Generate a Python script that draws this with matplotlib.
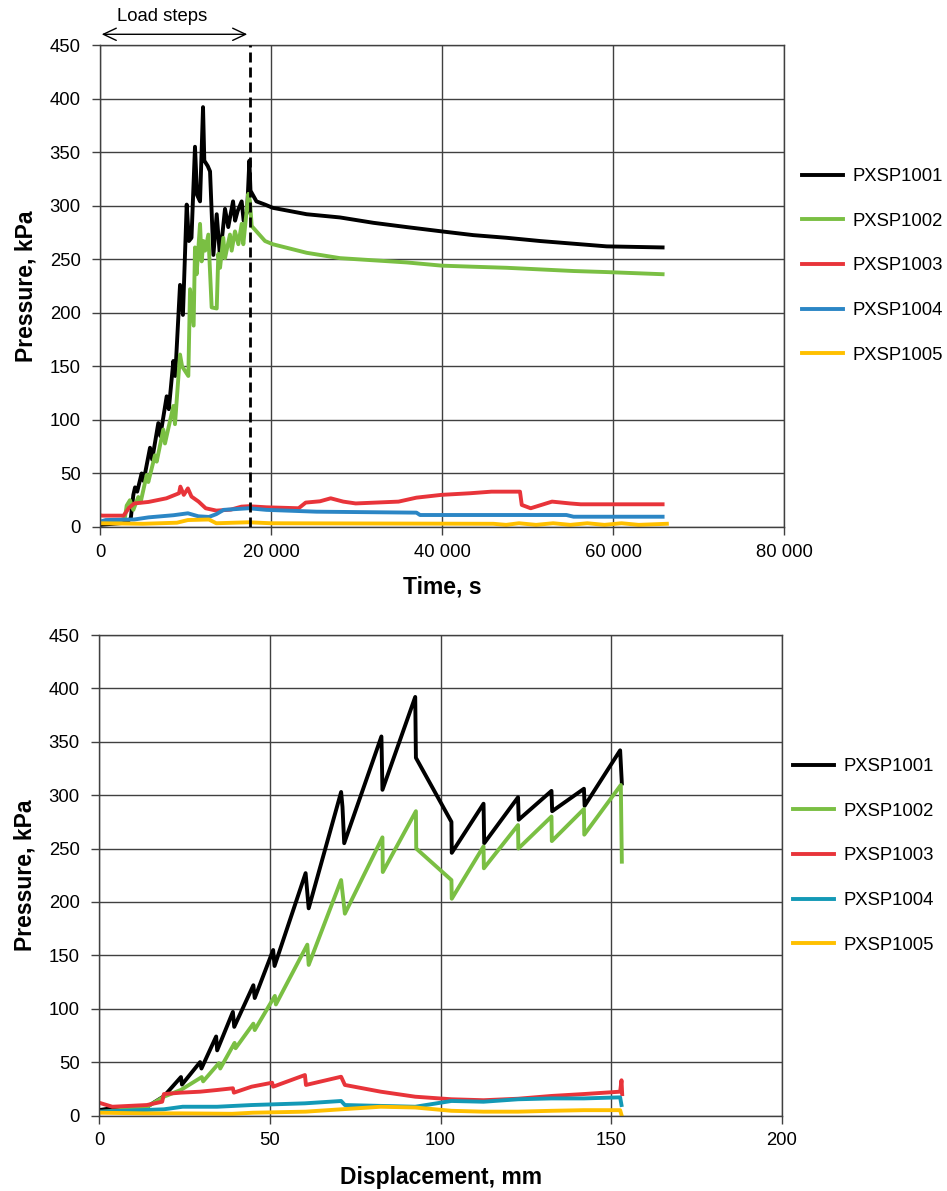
import matplotlib
matplotlib.use("Agg")
import matplotlib.pyplot as plt
from matplotlib.ticker import FuncFormatter, MultipleLocator

plt.rcParams['font.family'] = ['Liberation Sans', 'DejaVu Sans']

# ---- pressure vs time (s) ----
t_1001 = [0, 1500, 3000, 3600, 3900, 4100, 4350, 4870, 5100, 5850, 6100, 6820, 7050,
          7800, 8050, 8580, 8800, 9360, 9700, 10140, 10400, 10700, 11110, 11350, 11700,
          12050, 12200, 12600, 12870, 13260, 13650, 14040, 14620, 15000, 15560, 15800,
          16100, 16570, 16800, 17200, 17470, 17600, 18300, 19300, 20200, 24170, 28070,
          31970, 35870, 39960, 43660, 47560, 51460, 55360, 59260, 65800]
p_1001 = [2, 3, 4, 8, 30, 37, 33, 50, 43, 74, 63, 97, 85,
          122, 110, 155, 141, 226, 198, 301, 267, 270, 355, 310, 304,
          392, 342, 337, 332, 254, 292, 252, 297, 280, 304, 286,
          295, 304, 286, 294, 342, 314, 304, 301, 298, 292, 289,
          284, 280, 276, 272.5, 270, 267, 264.5, 262, 261]

t_1002 = [0, 2000, 2900, 3120, 3500, 3900, 4480, 4750, 5460, 5650, 6430, 6630, 7400,
          7600, 8580, 8770, 9360, 9600, 10330, 10530, 10950, 11110, 11300, 11700, 11890,
          12100, 12300, 12670, 13060, 13650, 13840, 14040, 14420, 14620, 15200, 15400,
          15790, 16180, 16570, 16760, 17350, 17540, 17740, 19300, 20200, 24170, 28070,
          31970, 35870, 39960, 43660, 47560, 51460, 55360, 59260, 65800]
p_1002 = [4, 5, 8, 20, 25, 16, 28, 23, 48.6, 42, 67, 61, 91,
          78, 113, 96, 161, 150, 141, 222, 188, 261, 236, 283, 248,
          267, 258, 273, 205, 204, 255, 242, 270, 251, 273, 258,
          276, 264, 283, 264, 311, 304, 281, 267, 264, 256, 251,
          249, 247, 244, 243, 242, 240.5, 239, 238, 236]

t_1003 = [0, 300, 2760, 3400, 4010, 5680, 7770, 9240, 9400, 9800, 10280, 10700, 11530,
          12360, 13610, 15290, 16540, 17380, 19460, 23230, 24060, 25730, 26980, 28450,
          29900, 34920, 37010, 39930, 43270, 45780, 49120, 49330, 50370, 52870, 54970,
          56220, 65800]
p_1003 = [11, 10.6, 10.6, 18, 22, 23.4, 26.8, 31.5, 37.7, 30, 36, 28.4, 23.7,
          17.5, 15.3, 16.2, 19, 19.4, 18.4, 17.5, 22.8, 24, 26.8, 23.7,
          22, 23.7, 27.4, 30, 31.5, 33, 33, 20.6, 17.5, 23.7, 22,
          21.2, 21.2]

t_1004 = [0, 670, 4000, 5680, 8600, 10280, 11500, 12740, 13600, 14460, 17380, 19460,
          25310, 37010, 37430, 54550, 55390, 65800]
p_1004 = [5, 6.5, 7, 9, 11, 12.8, 10, 9.4, 12, 16, 17.5, 16,
          14.3, 13.4, 11.2, 11.2, 9.6, 9.6]

t_1005 = [0, 5000, 9000, 10280, 12740, 13600, 17380, 20000, 46000, 47500, 49000,
          51000, 53000, 55000, 57000, 59000, 61000, 63000, 66300]
p_1005 = [3.5, 3, 4, 6.5, 7, 3.5, 4.4, 3.5, 3, 2, 3.5,
          2, 3.5, 2, 3.5, 2, 3.5, 2, 3]

# ---- pressure vs displacement (mm) ----
d_1001 = [0, 3.9, 14, 19, 24, 24.3, 29.6, 30, 34.3, 34.6, 39.2, 39.6, 45.2, 45.6, 51,
          51.4, 60.5, 61.4, 70.9, 71.3, 71.8, 82.7, 83, 92.6, 92.8, 103.2, 103.3, 112.6,
          112.8, 122.7, 122.9, 132.5, 132.7, 142, 142.2, 152.6, 153.1]
q_1001 = [5, 7, 8, 18, 36, 29, 50, 44, 74, 61, 97, 83, 122, 110, 155,
          140, 227, 194, 303, 289, 255, 355, 305, 392, 335, 275, 246, 292,
          255, 298, 277, 304, 285, 306, 290, 342, 311]

d_1002 = [0, 14, 19, 24, 30.1, 30.5, 35.1, 35.5, 39.7, 40, 45.2, 45.6, 51.5, 51.8, 61,
          61.4, 70.9, 72, 83, 83.1, 92.8, 92.9, 103.2, 103.3, 112.6, 112.7, 122.7, 122.8,
          132.5, 132.6, 142, 142.1, 152.8, 153.1]
q_1002 = [3, 8, 17.6, 24, 36, 32, 49, 44, 68, 63, 86, 80, 112, 104, 160,
          141, 220.5, 189, 260.5, 228, 285, 250, 220.5, 203, 252, 231.5, 272, 250,
          280, 257, 287, 263, 309.5, 237.7]

d_1003 = [0, 3.9, 14, 18.5, 19, 24, 29.6, 34.6, 39.2, 39.5, 44.7, 50.7, 51, 60.3, 60.6,
          70.9, 72, 82.5, 92.6, 103.2, 112.6, 122.7, 132.5, 142, 152.6, 153, 153.2]
q_1003 = [12, 8.2, 9.8, 12.9, 20.1, 21.4, 22.3, 23.9, 25.5, 21.4, 27, 30.7, 27, 37.9, 28.6,
          36.3, 28.6, 22.3, 17.6, 15.2, 14.3, 15.7, 18.3, 20.1, 22.3, 33, 20]

d_1004 = [0, 19, 24.5, 34.6, 44.7, 60.3, 70.9, 72, 92.6, 103.2, 112.6, 122.7, 132.5,
          142, 152.6, 153]
q_1004 = [3.6, 5.8, 8.2, 8.2, 9.8, 11.4, 13.6, 9.8, 8.2, 13.6, 12.9, 15.2, 16,
          16, 17, 9.8]

d_1005 = [0, 14, 24, 39, 45, 60.5, 70.9, 82.5, 92.6, 103.2, 112.6, 122.7, 132.5, 142,
          152.6, 153]
q_1005 = [2.6, 2, 2, 1.6, 2.6, 3.6, 5.8, 8.2, 7.5, 4.4, 3.6, 3.6, 4.4, 5,
          5, 0.5]

names = ['PXSP1001', 'PXSP1002', 'PXSP1003', 'PXSP1004', 'PXSP1005']
colors_top = ['#000000', '#7ABF43', '#E8343A', '#2B86C5', '#FFC000']
colors_bot = ['#000000', '#7ABF43', '#E8343A', '#1399B6', '#FFC000']

load_end = 17600  # end of loading phase, s

W, H = 947, 1191
fig = plt.figure(figsize=(W / 100, H / 100), dpi=100)
ax1 = fig.add_axes([100 / W, 1 - 527 / H, 684 / W, 482 / H])
ax2 = fig.add_axes([99 / W, 1 - 1115.5 / H, 683 / W, 480.5 / H])

grid_c = '#404040'
tick_fs = 13.3


def style(ax):
    ax.set_axisbelow(True)
    ax.grid(True, color=grid_c, lw=1.0)
    for s in ax.spines.values():
        s.set_color(grid_c)
        s.set_linewidth(1.0)
    ax.set_ylim(0, 450)
    ax.yaxis.set_major_locator(MultipleLocator(50))
    ax.tick_params(axis='both', direction='out', length=6, width=1, color=grid_c,
                   labelsize=tick_fs)
    ax.tick_params(axis='y', pad=8)
    ax.tick_params(axis='x', pad=6)


style(ax1)
top = [(t_1001, p_1001), (t_1002, p_1002), (t_1003, p_1003), (t_1004, p_1004), (t_1005, p_1005)]
for (x, y), c, n in zip(top, colors_top, names):
    ax1.plot(x, y, color=c, lw=2.8, label=n, solid_joinstyle='round')
ax1.set_xlim(0, 80000)
ax1.xaxis.set_major_locator(MultipleLocator(20000))
ax1.xaxis.set_major_formatter(FuncFormatter(lambda v, _: f"{int(v):,}".replace(',', ' ')))
ax1.axvline(load_end, color='black', lw=2, ls=(0, (3.6, 1.8)), zorder=5)
ax1.annotate('', xy=(200, 460), xytext=(load_end - 380, 460), annotation_clip=False,
             arrowprops=dict(arrowstyle='<->,head_length=0.7,head_width=0.33', lw=1,
                             color='black', shrinkA=0, shrinkB=0, mutation_scale=13.3))
ax1.text(7250, 477, 'Load steps', ha='center', va='center', fontsize=tick_fs, clip_on=False)
ax1.set_xlabel('Time, s', fontsize=16.5, fontweight='bold')
ax1.set_ylabel('Pressure, kPa', fontsize=16.5, fontweight='bold')
ax1.xaxis.set_label_coords(0.5, -0.10)
ax1.yaxis.set_label_coords(-0.092, 0.5)
fig.legend(*ax1.get_legend_handles_labels(), loc='center left',
           bbox_to_anchor=(802 / W, 1 - 266 / H), frameon=False, fontsize=tick_fs,
           handlelength=2.2, handletextpad=0.55, labelspacing=1.5, borderpad=0,
           borderaxespad=0)

style(ax2)
bot = [(d_1001, q_1001), (d_1002, q_1002), (d_1003, q_1003), (d_1004, q_1004), (d_1005, q_1005)]
for (x, y), c, n in zip(bot, colors_bot, names):
    ax2.plot(x, y, color=c, lw=2.8, label=n, solid_joinstyle='round')
ax2.set_xlim(0, 200)
ax2.xaxis.set_major_locator(MultipleLocator(50))
ax2.set_xlabel('Displacement, mm', fontsize=16.5, fontweight='bold')
ax2.set_ylabel('Pressure, kPa', fontsize=16.5, fontweight='bold')
ax2.xaxis.set_label_coords(0.5, -0.105)
ax2.yaxis.set_label_coords(-0.092, 0.5)
fig.legend(*ax2.get_legend_handles_labels(), loc='center left',
           bbox_to_anchor=(793 / W, 1 - 856 / H), frameon=False, fontsize=tick_fs,
           handlelength=2.2, handletextpad=0.55, labelspacing=1.5, borderpad=0,
           borderaxespad=0)

fig.savefig('out.png', dpi=100)
